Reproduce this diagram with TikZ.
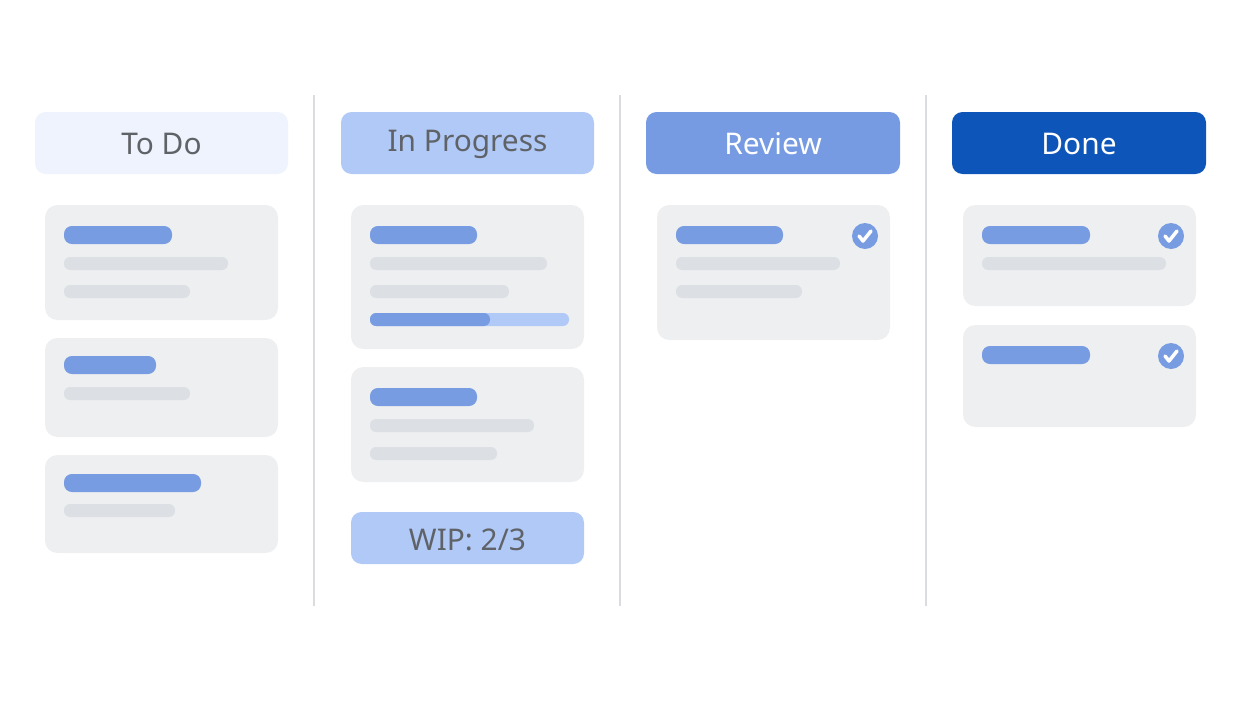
\documentclass[tikz,border=0pt]{standalone}
\usepackage{fontspec}
\setmainfont{Noto Sans}
\usepackage{tikz}
\definecolor{todoFill}{HTML}{EEF3FD}
\definecolor{progFill}{HTML}{B1C9F7}
\definecolor{revFill}{HTML}{779BE2}
\definecolor{doneFill}{HTML}{0E55B9}
\definecolor{cardFill}{HTML}{EEEFF1}
\definecolor{barBlue}{HTML}{789CE2}
\definecolor{barGray}{HTML}{DCDFE3}
\definecolor{headText}{HTML}{5F6368}
\definecolor{divider}{HTML}{DADCE0}

\begin{document}
\begin{tikzpicture}[x=0.02cm, y=-0.02cm,
    header/.style={rounded corners=6pt},
    card/.style={fill=cardFill, rounded corners=7pt},
    title/.style={fill=barBlue, rounded corners=4.5pt},
    line/.style={fill=barGray, rounded corners=3.5pt},
    label/.style={font=\fontsize{17}{20}\selectfont\bfseries},
    check/.style={fill=barBlue}]
    \useasboundingbox (0,0) rectangle (1241,700);

    % column headers
    \fill[header, todoFill] (35,112) rectangle (288,174);
    \node[label, text=headText] (todo) at (161.5,144) {To Do};
    \fill[header, progFill] (341,112) rectangle (594,174);
    \node[label, text=headText] (prog) at (467.5,144) {In Progress};
    \fill[header, revFill] (646,112) rectangle (900,174);
    \node[label, text=white] (review) at (773,144) {Review};
    \fill[header, doneFill] (952,112) rectangle (1206,174);
    \node[label, text=white] (done) at (1079,144) {Done};

    % dividers
    \foreach \x in {314,620,926}
        \draw[divider, line width=1pt] (\x,95) -- (\x,606);

    % To Do cards
    \fill[card] (45,205) rectangle (278,320);
    \fill[title] (64,226) rectangle (172,244);
    \fill[line] (64,257) rectangle (228,270);
    \fill[line] (64,285) rectangle (190,298);
    \fill[card] (45,338) rectangle (278,437);
    \fill[title] (64,356) rectangle (156,374);
    \fill[line] (64,387) rectangle (190,400);
    \fill[card] (45,455) rectangle (278,553);
    \fill[title] (64,474) rectangle (201,492);
    \fill[line] (64,504) rectangle (175,517);

    % In Progress cards
    \fill[card] (351,205) rectangle (584,349);
    \fill[title] (370,226) rectangle (477,244);
    \fill[line] (370,257) rectangle (547,270);
    \fill[line] (370,285) rectangle (509,298);
    \fill[progFill, rounded corners=3.5pt] (370,313) rectangle (569,326);
    \fill[barBlue, rounded corners=3.5pt] (370,313) rectangle (490,326);
    \fill[card] (351,367) rectangle (584,482);
    \fill[title] (370,388) rectangle (477,406);
    \fill[line] (370,419) rectangle (534,432);
    \fill[line] (370,447) rectangle (497,460);
    \fill[header, progFill] (351,512) rectangle (584,564);
    \node[label, text=headText] (wip) at (467.5,540) {WIP: 2/3};

    % Review card
    \fill[card] (657,205) rectangle (890,340);
    \fill[title] (676,226) rectangle (783,244);
    \fill[line] (676,257) rectangle (840,270);
    \fill[line] (676,285) rectangle (802,298);

    % Done cards
    \fill[card] (963,205) rectangle (1196,306);
    \fill[title] (982,226) rectangle (1090,244);
    \fill[line] (982,257) rectangle (1166,270);
    \fill[card] (963,325) rectangle (1196,427);
    \fill[title] (982,346) rectangle (1090,364);

    % check marks
    \foreach \cx/\cy in {865/236, 1171/236, 1171/356} {
        \fill[check] (\cx,\cy) circle (13);
        \draw[white, line width=2pt, line cap=round, line join=round]
            (\cx-6,\cy) -- (\cx-2,\cy+5) -- (\cx+6,\cy-5);
    }
\end{tikzpicture}
\end{document}
